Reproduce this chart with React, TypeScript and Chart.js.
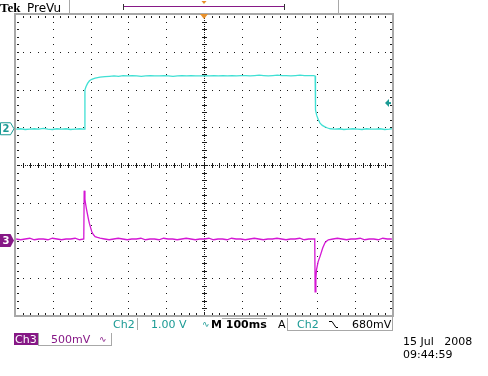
import React, { useEffect, useRef } from "react";
import { Chart, registerables } from "chart.js";
Chart.register(...registerables);

// time axis (ms), 100 ms / div
const timeTicks = [-500, -400, -300, -200, -100, 0, 100, 200, 300, 400, 500];
// vertical divisions
const divTicks = [-4, -3, -2, -1, 0, 1, 2, 3, 4];

const ch2Scale = 1.0; // V/div
const ch2Offset = 0.96; // div
const ch3Scale = 0.5; // V/div
const ch3Offset = -2; // div
const ch2TrigLevel = 0.68; // V

const ch2Time = [
  -497, -485, -473, -461, -449, -437, -425, -413, -401, -389, -377, -365, -353, -341, -329, -318, -316,
  -315, -312, -308, -303, -297, -288, -275, -262, -250,
  -238, -226, -214, -202, -190, -178, -166, -154, -142, -130, -118, -106, -94, -82, -70, -58, -46, -34, -22, -10,
  2, 14, 26, 38, 50, 62, 74, 86, 98, 110, 122, 134, 146, 158, 170, 182, 194, 206, 218, 230, 242, 254, 266, 278, 290, 294,
  295, 298, 302, 307, 313, 320, 327, 334,
  346, 358, 370, 382, 394, 406, 418, 430, 442, 454, 466, 478, 490, 497,
];
const ch2Volts = [
  -0.01, 0.0, -0.02, -0.01, 0.0, -0.01, 0.01, -0.01, -0.02, 0.0, -0.01, 0.0, -0.02, -0.01, 0.0, -0.01, -0.01,
  1.03, 1.12, 1.2, 1.27, 1.31, 1.34, 1.37, 1.38, 1.39,
  1.4, 1.39, 1.41, 1.4, 1.41, 1.4, 1.39, 1.4, 1.41, 1.4, 1.4, 1.41, 1.4, 1.39, 1.4, 1.41, 1.4, 1.41, 1.4, 1.4,
  1.41, 1.4, 1.41, 1.4, 1.41, 1.4, 1.41, 1.4, 1.41, 1.41, 1.4, 1.41, 1.42, 1.41, 1.4, 1.41, 1.42, 1.41, 1.41, 1.4, 1.41, 1.42, 1.41, 1.41, 1.41, 1.4,
  0.5, 0.36, 0.25, 0.15, 0.09, 0.05, 0.02, 0.0,
  -0.01, 0.0, -0.02, -0.01, 0.0, -0.01, -0.02, 0.0, -0.01, -0.01, 0.0, -0.02, -0.01, 0.0,
];

const ch3Time = [
  -497, -485, -473, -461, -449, -437, -425, -413, -401, -389, -377, -365, -353, -341, -329, -318,
  -317, -315, -314, -311, -308.7, -306, -303.4, -300, -297, -293, -288, -282, -275,
  -263, -251, -239, -227, -215, -203, -191, -179, -167, -155, -143, -131, -119, -107, -95, -83, -71, -59, -47, -35, -23, -11,
  1, 13, 25, 37, 49, 61, 73, 85, 97, 109, 121, 133, 145, 157, 169, 181, 193, 205, 217, 229, 241, 253, 265, 277, 289, 293,
  294, 296, 297.6, 302, 307, 314, 320, 324, 329,
  341, 353, 365, 377, 389, 401, 413, 425, 437, 449, 461, 473, 485, 497,
];
const ch3Volts = [
  0.02, 0.01, 0.02, 0.03, 0.01, 0.02, 0.02, 0.01, 0.03, 0.02, 0.01, 0.02, 0.02, 0.03, 0.01, 0.02,
  0.66, 0.55, 0.51, 0.42, 0.36, 0.29, 0.23, 0.17, 0.12, 0.08, 0.05, 0.04, 0.03,
  0.02, 0.01, 0.02, 0.03, 0.02, 0.01, 0.02, 0.02, 0.03, 0.01, 0.02, 0.02, 0.01, 0.03, 0.02, 0.02, 0.01, 0.02, 0.03, 0.02, 0.01, 0.02,
  0.02, 0.03, 0.01, 0.02, 0.02, 0.01, 0.03, 0.02, 0.02, 0.01, 0.02, 0.03, 0.02, 0.01, 0.02, 0.02, 0.03, 0.02, 0.01, 0.02, 0.02, 0.03, 0.01, 0.02, 0.02, 0.02,
  -0.68, -0.5, -0.39, -0.28, -0.21, -0.1, -0.03, -0.01, 0.01,
  0.02, 0.03, 0.02, 0.01, 0.02, 0.02, 0.03, 0.01, 0.02, 0.02, 0.01, 0.03, 0.02, 0.02,
];

const headerBrand = "Tek";
const headerMode = "PreVu";
const ch2Label = "Ch2";
const ch2ScaleText = "1.00 V";
const timebaseText = "M 100ms";
const triggerSource = "Ch2";
const triggerLevelText = "680mV";
const ch3Label = "Ch3";
const ch3ScaleText = "500mV";
const dateText = "15 Jul   2008";
const timeText = "09:44:59";

const CYAN = "#40e0d4";
const MAGENTA = "#d417d4";
const TEAL = "#1a9a94";
const PURPLE = "#861886";
const GRAY = "#a8a8a8";
const ORANGE = "#e8902a";

const scopePlugin = {
  id: "scope",
  beforeDatasetsDraw(chart: any) {
    const ctx = chart.ctx;
    const xs = chart.scales.x;
    const ys = chart.scales.y;
    const xp = timeTicks.map((t) => xs.getPixelForValue(t));
    const yp = divTicks.map((d) => ys.getPixelForValue(d));
    const xSub: number[] = [];
    for (let i = 0; i < xp.length - 1; i++) for (let k = 0; k < 5; k++) xSub.push(xp[i] + ((xp[i + 1] - xp[i]) * k) / 5);
    xSub.push(xp[xp.length - 1]);
    const ySub: number[] = [];
    for (let i = 0; i < yp.length - 1; i++) for (let k = 0; k < 5; k++) ySub.push(yp[i] + ((yp[i + 1] - yp[i]) * k) / 5);
    ySub.push(yp[yp.length - 1]);
    const left = xp[0], right = xp[xp.length - 1];
    const top = yp[yp.length - 1], bottom = yp[0];
    const cx = xs.getPixelForValue(0), cy = ys.getPixelForValue(0);
    ctx.save();
    ctx.fillStyle = "#1a1a1a";
    const dot = (x: number, y: number, w = 1, h = 1) => ctx.fillRect(Math.round(x), Math.round(y), w, h);
    // interior grid lines: dots
    for (let i = 1; i < xp.length - 1; i++) {
      if (timeTicks[i] === 0) continue;
      for (const y of ySub) if (y > top + 2 && y < bottom - 2) dot(xp[i], y);
    }
    for (let j = 1; j < yp.length - 1; j++) {
      if (divTicks[j] === 0) continue;
      for (const x of xSub) if (x > left + 2 && x < right - 2) dot(x, yp[j]);
    }
    // centre cross: dense dots + ticks
    for (let y = top + 2; y < bottom - 1; y += 2) dot(cx, y);
    for (let x = left + 2; x < right - 1; x += 2) dot(x, cy);
    for (const y of ySub) if (y > top + 2 && y < bottom - 2) dot(cx - 2, y, 5, 1);
    for (const x of xSub) if (x > left + 2 && x < right - 2) dot(x, cy - 2, 1, 5);
    // border ticks
    for (const x of xSub) {
      if (x > left + 2 && x < right - 2) {
        dot(x, top + 2, 1, 2);
        dot(x, bottom - 3, 1, 2);
      }
    }
    for (const y of ySub) {
      if (y > top + 2 && y < bottom - 2) {
        dot(left + 2, y, 2, 1);
        dot(right - 3, y, 2, 1);
      }
    }
    ctx.restore();
  },
  afterDraw(chart: any) {
    const ctx = chart.ctx;
    const xs = chart.scales.x;
    const ys = chart.scales.y;
    const left = xs.getPixelForValue(timeTicks[0]);
    const right = xs.getPixelForValue(timeTicks[timeTicks.length - 1]);
    const top = ys.getPixelForValue(divTicks[divTicks.length - 1]);
    const bottom = ys.getPixelForValue(divTicks[0]);
    const cx = xs.getPixelForValue(0);
    ctx.save();
    // frame
    ctx.fillStyle = GRAY;
    ctx.fillRect(left - 1, top - 1, right - left + 2, 2);
    ctx.fillRect(left - 1, bottom - 1, right - left + 2, 2);
    ctx.fillRect(left - 1, top - 1, 2, bottom - top + 2);
    ctx.fillRect(right - 1, top - 1, 2, bottom - top + 2);
    // header separators
    ctx.fillRect(69, 0, 1, 13);
    ctx.fillRect(338, 0, 1, 13);
    // record bracket
    ctx.fillStyle = PURPLE;
    ctx.fillRect(124, 6, 160, 1);
    ctx.fillStyle = "#333";
    ctx.fillRect(123, 4, 1, 6);
    ctx.fillRect(284, 4, 1, 6);
    // tiny orange marker in header
    ctx.fillStyle = ORANGE;
    ctx.beginPath();
    ctx.moveTo(cx - 2.5, 1);
    ctx.lineTo(cx + 2.5, 1);
    ctx.lineTo(cx, 4);
    ctx.closePath();
    ctx.fill();
    // trigger position marker
    ctx.beginPath();
    ctx.moveTo(cx - 4, top);
    ctx.lineTo(cx + 4, top);
    ctx.lineTo(cx, top + 5);
    ctx.closePath();
    ctx.fill();
    // header text
    ctx.textBaseline = "alphabetic";
    ctx.fillStyle = "#000";
    ctx.font = "bold 13px 'Liberation Serif'";
    ctx.fillText(headerBrand, 0, 12);
    ctx.font = "12px 'DejaVu Sans'";
    ctx.fillText(headerMode, 27, 12);

    // ch2 ground marker
    const g2 = ys.getPixelForValue(ch2Offset);
    ctx.strokeStyle = TEAL;
    ctx.lineWidth = 1;
    ctx.beginPath();
    ctx.moveTo(0.5, g2 - 6);
    ctx.lineTo(10.5, g2 - 6);
    ctx.lineTo(14, g2);
    ctx.lineTo(10.5, g2 + 6);
    ctx.lineTo(0.5, g2 + 6);
    ctx.closePath();
    ctx.stroke();
    ctx.fillStyle = TEAL;
    ctx.font = "bold 10px 'DejaVu Sans'";
    ctx.textAlign = "center";
    ctx.textBaseline = "middle";
    ctx.fillText("2", 6, g2 + 0.5);
    // ch3 ground marker
    const g3 = ys.getPixelForValue(ch3Offset);
    ctx.fillStyle = PURPLE;
    ctx.beginPath();
    ctx.moveTo(0, g3 - 6.5);
    ctx.lineTo(10.5, g3 - 6.5);
    ctx.lineTo(14, g3);
    ctx.lineTo(10.5, g3 + 6.5);
    ctx.lineTo(0, g3 + 6.5);
    ctx.closePath();
    ctx.fill();
    ctx.fillStyle = "#fff";
    ctx.fillText("3", 6, g3 + 0.5);
    // trigger level arrow (right)
    const tl = ys.getPixelForValue(ch2Offset + ch2TrigLevel / ch2Scale);
    ctx.fillStyle = TEAL;
    ctx.beginPath();
    ctx.moveTo(right - 8, tl);
    ctx.lineTo(right - 4, tl - 4);
    ctx.lineTo(right - 4, tl + 4);
    ctx.closePath();
    ctx.fill();
    ctx.fillRect(right - 5, tl - 1, 3, 2);

    // bottom status
    ctx.textAlign = "left";
    ctx.textBaseline = "alphabetic";
    ctx.font = "11px 'DejaVu Sans'";
    ctx.fillStyle = TEAL;
    ctx.fillText(ch2Label, 113, 328);
    ctx.fillText(ch2ScaleText, 151, 328);
    ctx.fillText(triggerSource, 297, 328);
    ctx.fillStyle = "#000";
    ctx.font = "bold 11px 'DejaVu Sans'";
    ctx.fillText(timebaseText, 211, 328);
    ctx.font = "11px 'DejaVu Sans'";
    ctx.fillText("A", 278, 328);
    ctx.fillText(triggerLevelText, 352, 328);
    ctx.fillStyle = TEAL;
    ctx.font = "9px 'DejaVu Sans'";
    ctx.fillText("\u223F", 202, 327);
    // trigger slope symbol
    ctx.strokeStyle = "#000";
    ctx.lineWidth = 1;
    ctx.beginPath();
    ctx.moveTo(329, 321.5);
    ctx.lineTo(332, 321.5);
    ctx.lineTo(336, 327.5);
    ctx.lineTo(338, 327.5);
    ctx.stroke();
    // boxes
    ctx.fillStyle = GRAY;
    ctx.fillRect(137, 318, 1, 12);
    ctx.fillRect(222, 318, 45, 1);
    ctx.fillRect(287, 318, 1, 12);
    ctx.fillRect(287, 330, 106, 1);
    ctx.fillRect(392, 316, 1, 15);

    // ch3 row
    ctx.fillStyle = PURPLE;
    ctx.fillRect(14, 333, 24, 12);
    ctx.fillStyle = "#fff";
    ctx.font = "11px 'DejaVu Sans'";
    ctx.fillText(ch3Label, 15, 343);
    ctx.fillStyle = GRAY;
    ctx.fillRect(38, 333, 1, 12);
    ctx.fillRect(38, 345, 74, 1);
    ctx.fillRect(111, 333, 1, 12);
    ctx.fillStyle = PURPLE;
    ctx.fillText(ch3ScaleText, 51, 343);
    ctx.font = "9px 'DejaVu Sans'";
    ctx.fillText("\u223F", 99, 342);

    // date/time
    ctx.fillStyle = "#000";
    ctx.font = "11px 'DejaVu Sans'";
    ctx.fillText(dateText, 403, 345);
    ctx.fillText(timeText, 403, 358);
    ctx.restore();
  },
};

export default function App() {
  const ref = useRef<HTMLCanvasElement>(null);
  useEffect(() => {
    if (!ref.current) return;
    const ch2Data = ch2Time.map((t, i) => ({ x: t, y: ch2Offset + ch2Volts[i] / ch2Scale }));
    const ch3Data = ch3Time.map((t, i) => ({ x: t, y: ch3Offset + ch3Volts[i] / ch3Scale }));
    const chart = new Chart(ref.current, {
      type: "line",
      data: {
        datasets: [
          { label: "Ch2", data: ch2Data, borderColor: CYAN, borderWidth: 1.3, pointRadius: 0, tension: 0, fill: false },
          { label: "Ch3", data: ch3Data, borderColor: MAGENTA, borderWidth: 1.3, pointRadius: 0, tension: 0, fill: false },
        ],
      },
      options: {
        animation: false,
        responsive: false,
        devicePixelRatio: 1,
        layout: { padding: { left: 15, top: 14, right: 95, bottom: 60 } },
        scales: {
          x: { type: "linear", min: -500, max: 500, display: false },
          y: { type: "linear", min: -4, max: 4, display: false },
        },
        plugins: { legend: { display: false }, tooltip: { enabled: false } },
      },
      plugins: [scopePlugin],
    });
    return () => chart.destroy();
  }, []);
  return (
    <div style={{ position: "fixed", left: 0, top: 0, width: 488, height: 376, background: "#fff" }}>
      <canvas ref={ref} width={488} height={376} style={{ display: "block" }} />
    </div>
  );
}
